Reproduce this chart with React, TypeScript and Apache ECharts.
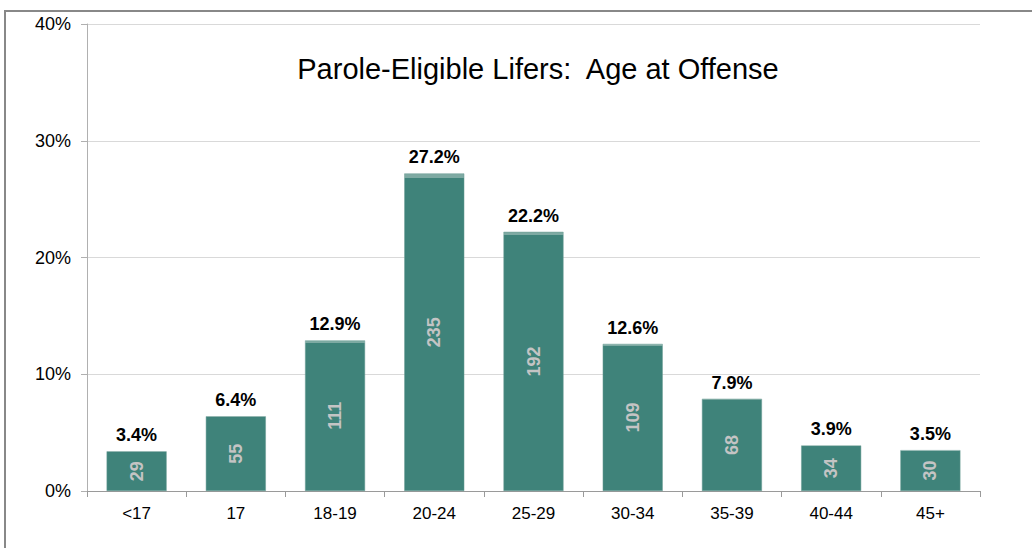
import React, { useEffect, useRef } from "react";
import * as echarts from "echarts";

const categories = ["<17", "17", "18-19", "20-24", "25-29", "30-34", "35-39", "40-44", "45+"];
const percents = [3.4, 6.4, 12.9, 27.2, 22.2, 12.6, 7.9, 3.9, 3.5];
const counts = [29, 55, 111, 235, 192, 109, 68, 34, 30];
const yTicks = [0, 10, 20, 30, 40];
const titleText = "Parole-Eligible Lifers:  Age at Offense";

export default function App() {
  const ref = useRef<HTMLDivElement>(null);
  useEffect(() => {
    if (!ref.current) return;
    const chart = echarts.init(ref.current, null, { renderer: "svg" });
    const font = "Liberation Sans, Arial, sans-serif";
    chart.setOption({
      animation: false,
      backgroundColor: "#ffffff",
      title: {
        text: titleText,
        left: 533,
        top: 49,
        textAlign: "center",
        textStyle: { fontFamily: font, fontSize: 29, fontWeight: "normal", color: "#000" },
      },
      grid: { left: 87, right: 52, top: 24, bottom: 57, containLabel: false },
      xAxis: {
        type: "category",
        data: categories,
        axisLine: { lineStyle: { color: "#9a9a9a", width: 1 } },
        axisTick: { show: true, alignWithLabel: false, length: 6, lineStyle: { color: "#9a9a9a" } },
        axisLabel: { fontFamily: font, fontSize: 17, color: "#000", margin: 14 },
      },
      yAxis: {
        type: "value",
        min: yTicks[0],
        max: yTicks[yTicks.length - 1],
        interval: 10,
        axisLine: { show: true, lineStyle: { color: "#b0b0b0", width: 1 } },
        axisTick: { show: true, length: 6, lineStyle: { color: "#b0b0b0" } },
        axisLabel: { fontFamily: font, fontSize: 18, color: "#000", margin: 16, formatter: "{value}%" },
        splitLine: { show: true, lineStyle: { color: "#d9d9d9", width: 1 } },
      },
      series: [
        {
          type: "bar",
          data: percents,
          barWidth: 60,
          itemStyle: {
            color: {
              type: "linear",
              x: 0, y: 0, x2: 0, y2: 1,
              colorStops: [
                { offset: 0, color: "#7eaaa3" },
                { offset: 0.013, color: "#7eaaa3" },
                { offset: 0.013, color: "#3f837a" },
                { offset: 1, color: "#3f837a" },
              ],
            },
            borderColor: "#6a9d95",
            borderWidth: 0.5,
          },
          label: {
            show: true,
            position: "top",
            distance: 7,
            fontFamily: font,
            fontSize: 18,
            fontWeight: "bold",
            color: "#000",
            formatter: (p: any) => p.value.toFixed(1) + "%",
          },
        },
        {
          type: "bar",
          data: percents,
          barWidth: 60,
          barGap: "-100%",
          itemStyle: { color: "transparent" },
          z: 5,
          label: {
            show: true,
            position: "inside",
            rotate: 90,
            fontFamily: font,
            fontSize: 18,
            fontWeight: "bold",
            color: "#c4c4c4",
            formatter: (p: any) => String(counts[p.dataIndex]),
          },
          silent: true,
        },
      ],
      graphic: [
        { type: "line", shape: { x1: 5, y1: 11, x2: 1032, y2: 11 }, style: { stroke: "#888", lineWidth: 2 } },
        { type: "line", shape: { x1: 5, y1: 10, x2: 5, y2: 548 }, style: { stroke: "#888", lineWidth: 2 } },
      ],
    });
    return () => chart.dispose();
  }, []);
  return (
    <div
      ref={ref}
      style={{ position: "fixed", left: 0, top: 0, width: 1032, height: 548 }}
    />
  );
}
